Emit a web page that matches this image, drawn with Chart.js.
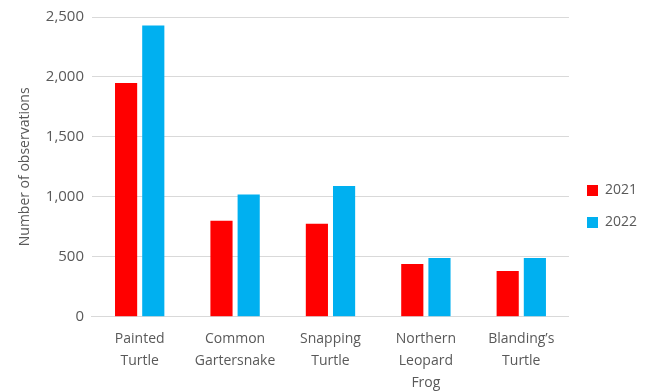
<!DOCTYPE html>
<html>
<head>
<meta charset="utf-8">
<script src="https://cdn.jsdelivr.net/npm/chart.js@4.4.0/dist/chart.umd.min.js"></script>
<style>
    html, body { margin: 0; padding: 0; background: #ffffff; }
    #wrap { width: 652px; height: 391px; }
</style>
</head>
<body>
<div id="wrap"><canvas id="obsChart" width="652" height="391"></canvas></div>
<script>
// Species observed (x axis categories)
const species = [
    ['Painted', 'Turtle'],
    ['Common', 'Gartersnake'],
    ['Snapping', 'Turtle'],
    ['Northern', 'Leopard', 'Frog'],
    ['Blanding\u2019s', 'Turtle']
];

// Observations per year
const obs2021 = [1950, 800, 775, 440, 380];
const obs2022 = [2430, 1020, 1090, 490, 490];

// Y axis ticks
const yMax = 2500;
const yStep = 500;

const textColor = '#595959';
const fontFamily = '"Open Sans", sans-serif';

new Chart(document.getElementById('obsChart').getContext('2d'), {
    type: 'bar',
    data: {
        labels: species,
        datasets: [
            {
                label: '2021',
                data: obs2021,
                backgroundColor: '#ff0000',
                categoryPercentage: 0.57,
                barPercentage: 0.815
            },
            {
                label: '2022',
                data: obs2022,
                backgroundColor: '#00b0f0',
                categoryPercentage: 0.57,
                barPercentage: 0.815
            }
        ]
    },
    options: {
        responsive: false,
        animation: false,
        layout: {
            padding: { top: 8, right: 5, left: 17, bottom: -14 }
        },
        plugins: {
            legend: {
                position: 'right',
                labels: {
                    boxWidth: 11,
                    boxHeight: 11,
                    padding: 18,
                    color: textColor,
                    font: { family: fontFamily, size: 14 }
                }
            },
            tooltip: { enabled: false }
        },
        scales: {
            x: {
                grid: { display: false, drawTicks: false },
                border: { color: '#d9d9d9' },
                ticks: {
                    color: textColor,
                    padding: 11,
                    maxRotation: 0,
                    autoSkip: false,
                    font: { family: fontFamily, size: 14, lineHeight: 1.58 }
                }
            },
            y: {
                min: 0,
                max: yMax,
                border: { display: false },
                grid: { color: '#d9d9d9', drawTicks: false },
                ticks: {
                    stepSize: yStep,
                    color: textColor,
                    padding: 8,
                    font: { family: fontFamily, size: 15 },
                    callback: function(value) {
                        return value.toLocaleString('en-US');
                    }
                },
                title: {
                    display: true,
                    text: 'Number of observations',
                    color: textColor,
                    padding: { top: 0, bottom: 4 },
                    font: { family: fontFamily, size: 14 }
                }
            }
        }
    }
});
</script>
</body>
</html>
